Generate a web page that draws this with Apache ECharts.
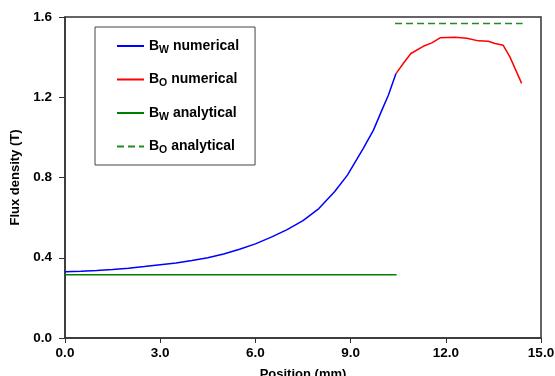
<!DOCTYPE html>
<html><head><meta charset="utf-8">
<script src="https://cdn.jsdelivr.net/npm/echarts@6/dist/echarts.min.js"></script>
<style>html,body{margin:0;padding:0;background:#fff}#c{width:555px;height:376px}</style>
</head><body><div id="c"></div>
<script>
const xTicks = [0, 3, 6, 9, 12, 15];
const yTicks = [0, 0.4, 0.8, 1.2, 1.6];
const bwNumerical = [[0,0.33],[0.5,0.333],[1,0.337],[1.5,0.342],[2,0.348],[2.5,0.356],[3,0.365],[3.5,0.374],[4,0.386],[4.5,0.4],[5,0.419],[5.5,0.442],[6,0.469],[6.5,0.503],[7,0.54],[7.5,0.585],[8,0.645],[8.5,0.73],[8.9,0.812],[9.4,0.945],[9.72,1.036],[10.03,1.152],[10.19,1.21],[10.43,1.318]];
const boNumerical = [[10.43,1.318],[10.66,1.368],[10.9,1.418],[11.29,1.454],[11.56,1.471],[11.82,1.496],[12.29,1.499],[12.66,1.494],[13.03,1.481],[13.34,1.479],[13.55,1.468],[13.81,1.459],[14.02,1.401],[14.39,1.269]];
const bwAnalytical = [[0,0.315],[10.45,0.315]];
const boAnalytical = [[10.4,1.567],[14.42,1.567]];
const legendLabels = {
  'Bw numerical': '{b|B}{s|W}{b| numerical}',
  'Bo numerical': '{b|B}{s|O}{b| numerical}',
  'Bw analytical': '{b|B}{s|W}{b| analytical}',
  'Bo analytical': '{b|B}{s|O}{b| analytical}'
};
const font = 'Liberation Sans, Arial, sans-serif';
const chart = echarts.init(document.getElementById('c'));
const axisCol = '#333';
chart.setOption({
  animation: false,
  grid: {left: 65, right: 14, top: 17, bottom: 38, show: true, borderColor: axisCol, borderWidth: 1.5, outerBoundsMode: 'none', containLabel: false},
  legend: {
    orient: 'vertical', left: 95, top: 27,
    borderColor: '#444', borderWidth: 1,
    padding: [12, 16, 9, 21],
    itemWidth: 27, itemHeight: 14, itemGap: 17,
    itemStyle: {opacity: 0},
    formatter: n => legendLabels[n],
    textStyle: {
      rich: {
        b: {fontFamily: font, fontWeight: 'bold', fontSize: 14, color: '#000', height: 18},
        s: {fontFamily: font, fontWeight: 'bold', fontSize: 10.5, color: '#000', padding: [8, 0, 0, 0], height: 18}
      }
    },
    data: ['Bw numerical', 'Bo numerical', 'Bw analytical', 'Bo analytical']
  },
  xAxis: {
    type: 'value', min: 0, max: 15, interval: 3,
    name: 'Position (mm)', nameLocation: 'middle', nameGap: 30,
    nameTextStyle: {fontFamily: font, fontWeight: 'bold', fontSize: 13, color: '#000'},
    axisLine: {lineStyle: {color: axisCol, width: 1.5}},
    axisTick: {show: true, length: 5, lineStyle: {color: axisCol}},
    axisLabel: {fontFamily: font, fontWeight: 'bold', fontSize: 13.5, color: '#000', margin: 8,
      formatter: v => xTicks.includes(v) ? v.toFixed(1) : ''},
    splitLine: {show: false}
  },
  yAxis: {
    type: 'value', min: 0, max: 1.6, interval: 0.4,
    name: 'Flux density (T)', nameLocation: 'middle', nameGap: 38,
    nameTextStyle: {fontFamily: font, fontWeight: 'bold', fontSize: 13, color: '#000'},
    axisLine: {show: true, lineStyle: {color: axisCol, width: 1.5}},
    axisTick: {show: true, length: 6, lineStyle: {color: axisCol}},
    axisLabel: {fontFamily: font, fontWeight: 'bold', fontSize: 13.5, color: '#000', margin: 13,
      formatter: v => yTicks.some(t => Math.abs(t - v) < 1e-9) ? v.toFixed(1) : ''},
    splitLine: {show: false}
  },
  series: [
    {name: 'Bw numerical', type: 'line', data: bwNumerical, symbol: 'none', lineStyle: {color: '#0000ff', width: 1.5}, itemStyle: {color: '#0000ff'}},
    {name: 'Bo numerical', type: 'line', data: boNumerical, symbol: 'none', lineStyle: {color: '#ff0000', width: 1.5}, itemStyle: {color: '#ff0000'}},
    {name: 'Bw analytical', type: 'line', data: bwAnalytical, symbol: 'none', lineStyle: {color: '#008000', width: 1.5}, itemStyle: {color: '#008000'}},
    {name: 'Bo analytical', type: 'line', data: boAnalytical, symbol: 'none', lineStyle: {color: '#228b22', width: 1.5, type: [7, 4]}, itemStyle: {color: '#228b22'}}
  ]
});
</script></body></html>
